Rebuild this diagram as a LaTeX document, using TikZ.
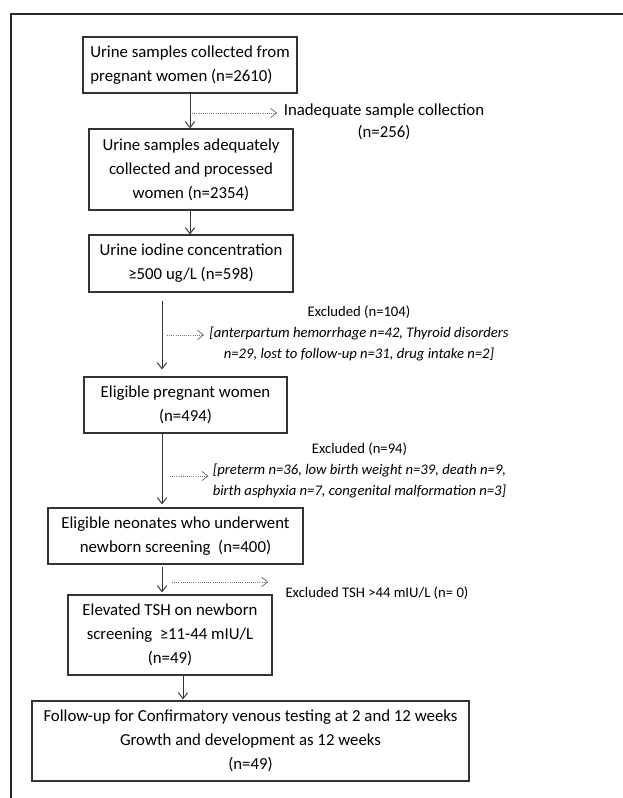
\documentclass[tikz,border=0pt]{standalone}
\usepackage{fontspec}
\setmainfont{Carlito}
\usetikzlibrary{positioning}
\usetikzlibrary{arrows.meta}
\tikzset{>={Straight Barb[length=4.5pt,width=7pt]}}

\begin{document}
\begin{tikzpicture}
	[x=0.75pt,y=-0.75pt,
	box/.style={draw=black!80,line width=0.9pt,align=center,inner sep=0pt,font=\fontsize{12.6}{18}\selectfont},
	note/.style={align=center,inner sep=0pt,font=\fontsize{11}{16}\selectfont},
	flow/.style={->,draw=black!80,line width=0.7pt},
	skip/.style={->,draw=black!55,densely dotted,line width=0.6pt}]
	\useasboundingbox (0,0) rectangle (623,798);
	\draw [line width=1.2pt,black!85] (11,798) -- (11,14) -- (623,14);
	\node [box,align=left,minimum width=160.5pt,minimum height=42pt] (collected) at (190,65) {Urine samples collected from\\pregnant women (n=2610)};
	\node [box,minimum width=153pt,minimum height=60.75pt] (adequate) at (191,169.5) {Urine samples adequately\\collected and processed\\women (n=2354)};
	\node [box,minimum width=153pt,minimum height=42.75pt] (iodine) at (191,263.5) {Urine iodine concentration\\≥500 ug/L (n=598)};
	\node [box,minimum width=152.25pt,minimum height=42pt] (women) at (185.5,405) {Eligible pregnant women\\(n=494)};
	\node [box,minimum width=191.25pt,minimum height=42pt] (neonates) at (175.5,536) {Eligible neonates who underwent\\newborn screening~~(n=400)};
	\node [box,minimum width=153pt,minimum height=60pt] (tsh) at (170,635) {Elevated TSH on newborn\\screening~~≥11-44 mIU/L\\(n=49)};
	\node [box,minimum width=327.75pt,minimum height=60pt] (followup) at (250.5,741) {Follow-up for Confirmatory venous testing at 2 and 12 weeks\\Growth and development as 12 weeks\\(n=49)};
	\node [box,draw=none,font=\fontsize{12.6}{17}\selectfont] (inadequate) at (384,122) {Inadequate sample collection\\(n=256)};
	\node [note] (excl1) at (359,333.5) {Excluded (n=104)\\\textit{[anterpartum hemorrhage n=42, Thyroid disorders}\\\textit{n=29, lost to follow-up n=31, drug intake n=2]}};
	\node [note] (excl2) at (359.5,470.5) {Excluded (n=94)\\\textit{[preterm n=36, low birth weight n=39, death n=9,}\\\textit{birth asphyxia n=7, congenital malformation n=3]}};
	\node [note] (excl3) at (377,593) {Excluded TSH >44 mIU/L (n= 0)};
	\coordinate (d1) at (190,113);
	\coordinate (d2) at (167,335);
	\coordinate (d3) at (170,476);
	\coordinate (d4) at (172,582);
	\draw [flow] (collected.south) -- (collected.south |- adequate.north);
	\draw [flow] ([xshift=-0.75pt]adequate.south) -- ([xshift=-0.75pt]adequate.south |- iodine.north);
	\draw [flow,shorten <=6pt,shorten >=5.25pt] ([xshift=-21.75pt]iodine.south) -- ([xshift=-21.75pt]iodine.south |- women.north);
	\draw [flow,shorten >=2.25pt] ([xshift=-17.6pt]women.south) -- ([xshift=-17.6pt]women.south |- neonates.north);
	\draw [flow,shorten <=1.5pt,shorten >=1.5pt] ([xshift=-10.1pt]neonates.south) -- ([xshift=-10.1pt]neonates.south |- tsh.north);
	\draw [flow,shorten >=0.75pt] ([xshift=9.75pt]tsh.south) -- ([xshift=9.75pt]tsh.south |- followup.north);
	\draw [skip,shorten >=4.5pt] (d1) -- (d1 -| inadequate.west);
	\draw [skip,shorten >=3.75pt] (d2) -- (d2 -| excl1.west);
	\draw [skip,shorten >=3pt] (d3) -- (d3 -| excl2.west);
	\draw [skip,shorten >=12.75pt] (d4) -- (d4 -| excl3.west);
\end{tikzpicture}
\end{document}
